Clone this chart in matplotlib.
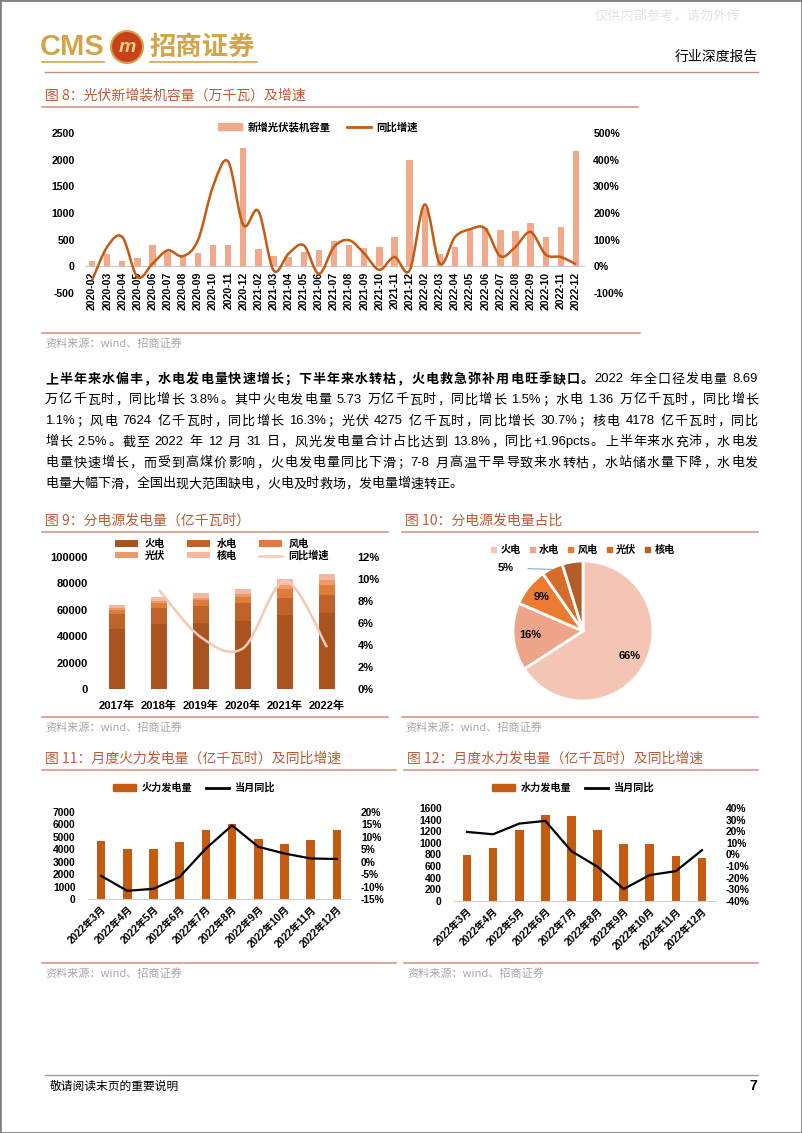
import re
import numpy as np
import matplotlib
matplotlib.use('Agg')
import matplotlib.pyplot as plt
from matplotlib.path import Path
from matplotlib.patches import PathPatch, Patch, Rectangle, Ellipse
from matplotlib.lines import Line2D
from matplotlib.ticker import FuncFormatter

FAM = ['Liberation Sans', 'Noto Sans CJK SC']
plt.rcParams['font.family'] = FAM
plt.rcParams['axes.unicode_minus'] = False

# ---------------- 数据 ----------------
# 图8 光伏新增装机（万千瓦）及同比
pv_months = [f'{y}-{m:02d}' for y in (2020, 2021, 2022) for m in range(2, 13)]
pv_new = [100, 226, 107, 151, 396, 260, 207, 251, 409, 396, 2220,
          320, 201, 176, 270, 302, 484, 402, 346, 371, 547, 2000,
          1090, 226, 365, 680, 711, 680, 667, 805, 553, 742, 2157]
pv_yoy = [-53, 73, 110, -40, 10, 60, 38, 98, 300, 393, 155,
          207, -15, 48, 79, -28, 73, 98, 48, -13, 35, -15,
          232, 10, 110, 139, 142, 38, 73, 129, 44, 35, 8]

# 图9 分电源发电量（亿千瓦时）
years = ['2017年', '2018年', '2019年', '2020年', '2021年', '2022年']
sources = ['火电', '水电', '风电', '光伏', '核电']
thermal = [45200, 49000, 50000, 51500, 55900, 57300]
hydro = [11900, 12300, 13000, 13550, 13400, 13600]
wind = [3050, 3660, 4060, 4670, 6550, 7624]
solar = [1180, 1770, 2240, 2610, 3260, 4275]
nuclear = [2480, 2950, 3490, 3660, 4080, 4178]
gen_yoy = [9.0, 4.7, 3.7, 9.8, 3.8]          # 2018-2022

# 图11/12 月度火电、水电
months = ['2022年3月', '2022年4月', '2022年5月', '2022年6月', '2022年7月',
          '2022年8月', '2022年9月', '2022年10月', '2022年11月', '2022年12月']
thermal_m = [4658, 3992, 4019, 4551, 5536, 6015, 4818, 4445, 4738, 5536]
thermal_yoy = [-5.7, -11.7, -10.9, -6.1, 5.3, 14.6, 6.0, 3.3, 1.3, 1.1]
hydro_m = [800, 914, 1217, 1474, 1457, 1217, 989, 989, 771, 743]
hydro_yoy = [19.4, 17.4, 26.6, 28.9, 2.9, -10.6, -29.7, -17.7, -14.3, 3.7]

# ---------------- 布局工具 ----------------
W, H = 802, 1133
fig = plt.figure(figsize=(W / 100, H / 100), dpi=100)


def fx(x):
    return x / W


def fy(y):
    return 1 - y / H


def box(x0, y0, x1, y1):
    return [x0 / W, 1 - y1 / H, (x1 - x0) / W, (y1 - y0) / H]


def hline(x0, x1, y, color, lw=1.0):
    fig.add_artist(Line2D([fx(x0), fx(x1)], [fy(y), fy(y)], color=color, lw=lw,
                          transform=fig.transFigure))


def smooth_path(xs, ys):
    pts = np.column_stack([xs, ys]).astype(float)
    n = len(pts)
    verts = [pts[0]]
    codes = [Path.MOVETO]
    for i in range(n - 1):
        p0 = pts[i - 1] if i > 0 else pts[i]
        p1, p2 = pts[i], pts[i + 1]
        p3 = pts[i + 2] if i + 2 < n else pts[i + 1]
        verts += [p1 + (p2 - p0) / 6, p2 - (p3 - p1) / 6, p2]
        codes += [Path.CURVE4] * 3
    return Path(verts, codes)


TITLE_C = '#BE5B36'
RULE_C = '#D39A88'
SRC_C = '#A6A6A6'


def title(x, y, s, x1):
    fig.text(fx(x), fy(y), s, fontsize=10, color=TITLE_C, va='center',
             family=['Noto Sans CJK SC'])
    hline(x - 3, x1, y + 11, RULE_C, 1.2)


def source(x, y, x1):
    hline(x - 3, x1, y, RULE_C, 1.2)
    fig.text(fx(x), fy(y + 10), '资料来源：wind、招商证券', fontsize=8, color=SRC_C,
             va='center', family=['Noto Sans CJK SC'])


def style_ticks(ax, size=8):
    for lab in ax.get_xticklabels() + ax.get_yticklabels():
        lab.set_fontweight('bold')
        lab.set_fontsize(size)
    ax.tick_params(length=0)


def clean(ax):
    for s in ax.spines.values():
        s.set_visible(False)


pct = FuncFormatter(lambda v, p: f'{v:.0f}%')

# ---------------- 页眉 ----------------
GOLD = '#D2A54A'
fig.text(fx(40), fy(47), 'CMS', fontsize=21, color=GOLD, va='center', fontweight='bold')
fig.add_artist(Ellipse((fx(127), fy(47)), 32 / W, 32 / H, transform=fig.transFigure,
                       facecolor='#C9401C', edgecolor=GOLD, lw=1.5))
fig.text(fx(127), fy(47), 'm', fontsize=14, color='#F4D27A', ha='center', va='center',
         fontweight='bold', style='italic')
fig.text(fx(149), fy(47), '招商证券', fontsize=19, color=GOLD, va='center',
         fontweight='bold', family=['Noto Sans CJK SC'])
hline(42, 104, 62, GOLD, 1.2)
hline(150, 257, 62, GOLD, 1.2)
fig.text(fx(758), fy(57), '行业深度报告', fontsize=10, ha='right', va='center',
         family=['Noto Sans CJK SC'])
fig.text(fx(740), fy(17), '仅供内部参考，请勿外传', fontsize=9.5, ha='right', va='center',
         color='#E3E3E3', family=['Noto Sans CJK SC'])
hline(45, 758, 72, '#C98B7A', 1.0)

# ---------------- 图8 ----------------
title(45, 96, '图 8：光伏新增装机容量（万千瓦）及增速', 638)
ax8 = fig.add_axes(box(84.5, 133, 583.5, 293))
clean(ax8)
ax8.spines['bottom'].set_visible(True)
ax8.spines['bottom'].set_position(('data', 0))
ax8.spines['bottom'].set_color('#C8C8C8')
x8 = np.arange(len(pv_months))
ax8.bar(x8, pv_new, width=0.42, color='#F2A98B', zorder=2)
ax8.set_xlim(-0.5, len(pv_months) - 0.5)
ax8.set_ylim(-500, 2500)
ax8.set_yticks(range(-500, 2501, 500))
ax8.set_xticks(x8)
ax8.set_xticklabels(pv_months, rotation=90, va='top', ha='center')
style_ticks(ax8, 7.6)
ax8.tick_params(axis='y', pad=7)
ax8.tick_params(axis='x', pad=4)
ax8r = ax8.twinx()
ax8r.set_ylim(-100, 500)
ax8r.set_yticks(range(-100, 501, 100))
ax8r.yaxis.set_major_formatter(pct)
clean(ax8r)
style_ticks(ax8r, 7.6)
ax8r.tick_params(axis='y', pad=7)
ax8r.add_patch(PathPatch(smooth_path(x8, pv_yoy), facecolor='none',
                         edgecolor='#C55A11', lw=1.8))
fig.legend(handles=[Patch(color='#F2A98B', label='新增光伏装机容量'),
                    Line2D([], [], color='#C55A11', lw=2, label='同比增速')],
           loc='center', bbox_to_anchor=(fx(318), fy(127)), ncol=2, frameon=False,
           prop={'family': 'Noto Sans CJK SC', 'size': 7.5, 'weight': 'bold'},
           handlelength=2.3, handleheight=0.6, columnspacing=1.6, handletextpad=0.5)
source(45, 333, 640)

# ---------------- 正文 ----------------
para = [
    [('上半年来水偏丰，水电发电量快速增长；下半年来水转枯，火电救急弥补用电旺季缺口。', 'bold'),
     ('2022 年全口径发电量 8.69', 'normal')],
    [('万亿千瓦时，同比增长 3.8%。其中火电发电量 5.73 万亿千瓦时，同比增长 1.5%；水电 1.36 万亿千瓦时，同比增长', 'normal')],
    [('1.1%；风电 7624 亿千瓦时，同比增长 16.3%；光伏 4275 亿千瓦时，同比增长 30.7%；核电 4178 亿千瓦时，同比', 'normal')],
    [('增长 2.5%。截至 2022 年 12 月 31 日，风光发电量合计占比达到 13.8%，同比+1.96pcts。上半年来水充沛，水电发', 'normal')],
    [('电量快速增长，而受到高煤价影响，火电发电量同比下滑；7-8 月高温干旱导致来水转枯，水站储水量下降，水电发', 'normal')],
    [('电量大幅下滑，全国出现大范围缺电，火电及时救场，发电量增速转正。', 'normal')],
]
FS = 9.4
renderer = fig.canvas.get_renderer()
em = FS * 100 / 72
for i, parts in enumerate(para):
    y = 379 + 21 * i
    items = []
    for s, w in parts:
        for m in re.finditer(r'[A-Za-z0-9.%+\-]+| +|.', s):
            t = m.group()
            if t.strip() == '':
                items.append((None, em * 0.28 * len(t)))
            elif ord(t[0]) > 0x2e80:
                txt = fig.text(0, fy(y), t, fontsize=FS, fontweight=w, va='center',
                               family=['Noto Sans CJK SC'])
                items.append((txt, em))
            else:
                txt = fig.text(0, fy(y), t, fontsize=FS, fontweight=w, va='center')
                items.append((txt, txt.get_window_extent(renderer=renderer).width))
    total = sum(wd for _, wd in items)
    gap = (758 - 45 - total) / (len(items) - 1) if i < len(para) - 1 else 0.0
    xpos = 45
    for txt, wd in items:
        if txt is not None:
            txt.set_x(fx(xpos))
        xpos += wd + gap

# ---------------- 图9 ----------------
title(45, 521, '图 9：分电源发电量（亿千瓦时）', 388)
stack_colors = ['#A9531F', '#C0632A', '#E07B39', '#EC9A6C', '#F4B8A0']
ax9 = fig.add_axes(box(96, 557, 348, 689))
x9 = np.arange(len(years))
bottom = np.zeros(len(years))
handles9 = []
for name, vals, c in zip(sources, [thermal, hydro, wind, solar, nuclear], stack_colors):
    b = ax9.bar(x9, vals, bottom=bottom, width=0.4, color=c, label=name)
    handles9.append(b)
    bottom += np.array(vals)
ax9.set_xlim(-0.5, len(years) - 0.5)
ax9.set_ylim(0, 100000)
ax9.set_yticks(range(0, 100001, 20000))
ax9.set_xticks(x9)
ax9.set_xticklabels(years)
clean(ax9)
style_ticks(ax9, 8)
ax9.tick_params(axis='y', pad=6)
ax9.tick_params(axis='x', pad=8)
ax9r = ax9.twinx()
ax9r.set_ylim(0, 12)
ax9r.set_yticks(range(0, 13, 2))
ax9r.yaxis.set_major_formatter(pct)
clean(ax9r)
style_ticks(ax9r, 8)
ax9r.tick_params(axis='y', pad=7)
ax9r.add_patch(PathPatch(smooth_path(x9[1:], gen_yoy), facecolor='none',
                         edgecolor='#F5C8B6', lw=1.8))
line9 = Line2D([], [], color='#F5C8B6', lw=1.8, label='同比增速')
h9 = [handles9[0], handles9[3], handles9[1], handles9[4], handles9[2], line9]
fig.legend(handles=h9, labels=[h.get_label() for h in h9], loc='center',
           bbox_to_anchor=(fx(222), fy(550)), ncol=3, frameon=False,
           prop={'family': 'Noto Sans CJK SC', 'size': 7.3, 'weight': 'bold'},
           handlelength=2.3, handleheight=0.6, columnspacing=2.2, handletextpad=0.6,
           labelspacing=0.15)
source(45, 717, 388)

# ---------------- 图10 ----------------
title(405, 521, '图 10：分电源发电量占比', 758)
pie_colors = ['#F4C5B3', '#EEA488', '#EA7B30', '#D56C2A', '#B45D28']
share_2022 = [thermal[-1], hydro[-1], wind[-1], solar[-1], nuclear[-1]]
ax10 = fig.add_axes(box(483, 531, 683, 731))
wedges, texts, autos = ax10.pie(share_2022, colors=pie_colors, startangle=90,
                                counterclock=False, autopct='%1.0f%%', pctdistance=0.76,
                                wedgeprops={'edgecolor': 'white', 'linewidth': 2},
                                textprops={'fontsize': 8, 'fontweight': 'bold'})
ax10.set_xlim(-100 / 70, 100 / 70)
ax10.set_ylim(-100 / 70, 100 / 70)
ax10.set_aspect('equal')
autos[4].set_visible(False)
autos[3].set_visible(False)
w = wedges[3]
ang = np.deg2rad((w.theta1 + w.theta2) / 2)
ax10.annotate(autos[3].get_text(), xy=(np.cos(ang) * 0.98, np.sin(ang) * 0.98),
              xytext=(-1.1, 0.9), fontsize=8, fontweight='bold', ha='center', va='center',
              arrowprops={'arrowstyle': '-', 'color': '#8EA9C1', 'lw': 0.8,
                          'shrinkA': 8, 'shrinkB': 0})
fig.legend(handles=[Patch(color=c, label=s) for c, s in zip(pie_colors, sources)],
           loc='center', bbox_to_anchor=(fx(583), fy(550)), ncol=5, frameon=False,
           prop={'family': 'Noto Sans CJK SC', 'size': 7.3, 'weight': 'bold'},
           handlelength=0.5, handleheight=0.5, columnspacing=0.9, handletextpad=0.4)
source(405, 717, 758)


# ---------------- 图11 / 图12 ----------------
def monthly(bx, vals, yoy, ymax, ystep, rlo, rhi, rstep, name, legx, tx, ttl):
    title(tx, 759, ttl, tx + 351)
    ax = fig.add_axes(box(*bx))
    xm = np.arange(len(months))
    ax.bar(xm, vals, width=0.33, color='#C55A11', zorder=2)
    ax.set_xlim(-0.5, len(months) - 0.5)
    ax.set_ylim(0, ymax)
    ax.set_yticks(range(0, ymax + 1, ystep))
    ax.set_xticks(xm)
    ax.set_xticklabels(months, rotation=45, ha='right', rotation_mode='anchor')
    clean(ax)
    ax.spines['bottom'].set_visible(True)
    ax.spines['bottom'].set_color('#D0D0D0')
    style_ticks(ax, 7.4)
    ax.tick_params(axis='y', pad=9)
    ax.tick_params(axis='x', pad=4)
    axr = ax.twinx()
    axr.plot(xm, yoy, color='black', lw=1.6)
    axr.set_ylim(rlo, rhi)
    axr.set_yticks(range(rlo, rhi + 1, rstep))
    axr.yaxis.set_major_formatter(pct)
    clean(axr)
    style_ticks(axr, 7.4)
    axr.tick_params(axis='y', pad=8)
    fig.legend(handles=[Patch(color='#C55A11', label=name),
                        Line2D([], [], color='black', lw=2, label='当月同比')],
               loc='center', bbox_to_anchor=(fx(legx), fy(788)), ncol=2, frameon=False,
               prop={'family': 'Noto Sans CJK SC', 'size': 7.3, 'weight': 'bold'},
               handlelength=2.3, handleheight=0.6, columnspacing=1.4, handletextpad=0.5)
    source(tx, 963, tx + 351)


monthly((88, 812, 350, 899), thermal_m, thermal_yoy, 7000, 1000, -15, 20, 5,
        '火力发电量', 194, 45, '图 11：月度火力发电量（亿千瓦时）及同比增速')
monthly((454, 808, 715, 901), hydro_m, hydro_yoy, 1600, 200, -40, 40, 10,
        '水力发电量', 573, 407, '图 12：月度水力发电量（亿千瓦时）及同比增速')

# ---------------- 页脚 ----------------
hline(45, 758, 1075, '#A0A0A0', 1.0)
fig.text(fx(50), fy(1086), '敬请阅读末页的重要说明', fontsize=8.5, va='center',
         family=['Noto Sans CJK SC'])
fig.text(fx(757), fy(1086), '7', fontsize=10, fontweight='bold', ha='right', va='center')
fig.add_artist(Rectangle((0, 0), 1, 1, transform=fig.transFigure, fill=False,
                         edgecolor='#808080', lw=2))

fig.savefig('out.png', dpi=100)
